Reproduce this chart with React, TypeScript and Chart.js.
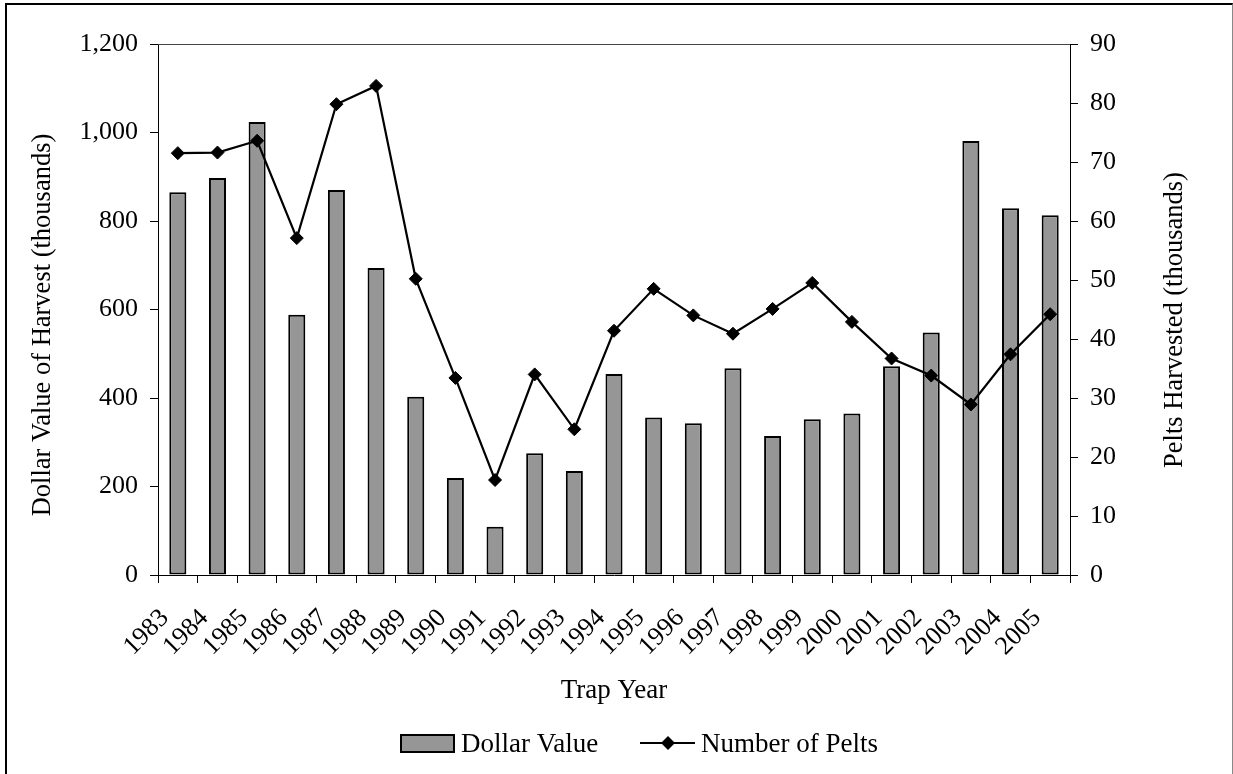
import React, { useEffect, useRef } from 'react';
import { Chart, registerables } from 'chart.js';

Chart.register(...registerables);

const FONT = '"Liberation Serif", "Times New Roman", Times, serif';

const years = [
  '1983', '1984', '1985', '1986', '1987', '1988', '1989', '1990', '1991', '1992', '1993', '1994',
  '1995', '1996', '1997', '1998', '1999', '2000', '2001', '2002', '2003', '2004', '2005',
];

// Dollar value of harvest (thousands) - left axis
const dollarValue = [
  865, 897, 1024, 588, 870, 694, 403, 219, 109, 275, 235, 454,
  356, 343, 467, 314, 352, 365, 472, 548, 981, 829, 813,
];

// Pelts harvested (thousands) - right axis
const peltsHarvested = [
  71.5, 71.6, 73.6, 57.1, 79.8, 82.9, 50.2, 33.4, 16.1, 34.0, 24.7, 41.4,
  48.5, 44.0, 40.9, 45.1, 49.5, 42.9, 36.7, 33.8, 28.9, 37.4, 44.2,
];

const leftAxisRange = [0, 1200, 200];
const rightAxisRange = [0, 90, 10];

const Y_LEFT_TITLE = 'Dollar Value of Harvest (thousands)';
const Y_RIGHT_TITLE = 'Pelts Harvested (thousands)';
const X_TITLE = 'Trap Year';
const LEGEND_BAR = 'Dollar Value';
const LEGEND_LINE = 'Number of Pelts';

const BAR_FILL = '#969696';

const extrasPlugin = {
  id: 'extras',
  afterDraw(chart: any) {
    const { ctx, chartArea } = chart;
    ctx.save();
    // top border of plot area
    ctx.strokeStyle = '#444';
    ctx.lineWidth = 1;
    ctx.beginPath();
    ctx.moveTo(chartArea.left, chartArea.top + 0.5);
    ctx.lineTo(chartArea.right, chartArea.top + 0.5);
    ctx.stroke();

    ctx.fillStyle = '#000';
    // x title
    ctx.font = `27px ${FONT}`;
    ctx.textAlign = 'center';
    ctx.textBaseline = 'alphabetic';
    ctx.fillText(X_TITLE, (chartArea.left + chartArea.right) / 2, 698);

    // left title
    ctx.font = `26.5px ${FONT}`;
    ctx.save();
    ctx.translate(50, 325);
    ctx.rotate(-Math.PI / 2);
    ctx.fillText(Y_LEFT_TITLE, 0, 0);
    ctx.restore();

    // right title
    ctx.save();
    ctx.translate(1182, 320);
    ctx.rotate(-Math.PI / 2);
    ctx.fillText(Y_RIGHT_TITLE, 0, 0);
    ctx.restore();

    // legend
    ctx.font = `27px ${FONT}`;
    ctx.textAlign = 'left';
    ctx.fillStyle = BAR_FILL;
    ctx.fillRect(401, 735, 53, 17);
    ctx.strokeStyle = '#000';
    ctx.lineWidth = 2;
    ctx.strokeRect(401, 735, 53, 17);
    ctx.fillStyle = '#000';
    ctx.fillText(LEGEND_BAR, 461, 752);

    ctx.lineWidth = 2.2;
    ctx.beginPath();
    ctx.moveTo(640, 743);
    ctx.lineTo(695, 743);
    ctx.stroke();
    ctx.beginPath();
    ctx.moveTo(668, 736);
    ctx.lineTo(675, 743);
    ctx.lineTo(668, 750);
    ctx.lineTo(661, 743);
    ctx.closePath();
    ctx.fill();
    ctx.fillText(LEGEND_LINE, 701, 752);
    ctx.restore();
  },
};

export default function App() {
  const ref = useRef<HTMLCanvasElement | null>(null);

  useEffect(() => {
    if (!ref.current) return;
    const chart = new Chart(ref.current, {
      type: 'bar',
      data: {
        labels: years,
        datasets: [
          {
            type: 'line',
            label: LEGEND_LINE,
            data: peltsHarvested,
            yAxisID: 'y1',
            borderColor: '#000',
            borderWidth: 2.2,
            backgroundColor: '#000',
            pointStyle: 'rectRot',
            pointRadius: 6.5,
            pointBackgroundColor: '#000',
            pointBorderColor: '#000',
            pointBorderWidth: 1,
            tension: 0,
            order: 1,
          } as any,
          {
            type: 'bar',
            label: LEGEND_BAR,
            data: dollarValue,
            yAxisID: 'y',
            backgroundColor: BAR_FILL,
            borderColor: '#000',
            borderWidth: 2,
            borderSkipped: false,
            categoryPercentage: 1,
            barPercentage: 0.43,
            order: 2,
          } as any,
        ],
      },
      options: {
        responsive: false,
        animation: false,
        layout: { padding: { top: 44, bottom: 69, left: 0, right: 0 } },
        plugins: {
          legend: { display: false },
          tooltip: { enabled: false },
        },
        scales: {
          x: {
            offset: true,
            grid: {
              offset: true,
              drawOnChartArea: false,
              drawTicks: true,
              tickLength: 8,
              color: '#000',
            },
            border: { display: true, color: '#000', width: 1 },
            ticks: {
              autoSkip: false,
              minRotation: 45,
              maxRotation: 45,
              labelOffset: -13,
              padding: 20,
              color: '#000',
              font: { family: FONT, size: 26 },
            },
            afterFit: (s: any) => {
              s.height = 130;
            },
          },
          y: {
            position: 'left',
            min: leftAxisRange[0],
            max: leftAxisRange[1],
            grid: { drawOnChartArea: false, drawTicks: true, tickLength: 8, color: '#000' },
            border: { display: true, color: '#000', width: 1 },
            ticks: {
              stepSize: leftAxisRange[2],
              padding: 12,
              color: '#000',
              font: { family: FONT, size: 26 },
            },
            afterFit: (s: any) => {
              s.width = 158;
            },
          },
          y1: {
            position: 'right',
            min: rightAxisRange[0],
            max: rightAxisRange[1],
            grid: { drawOnChartArea: false, drawTicks: true, tickLength: 8, color: '#000' },
            border: { display: true, color: '#000', width: 1 },
            ticks: {
              stepSize: rightAxisRange[2],
              padding: 12,
              color: '#000',
              font: { family: FONT, size: 26 },
            },
            afterFit: (s: any) => {
              s.width = 163;
            },
          },
        },
      },
      plugins: [extrasPlugin],
    });
    return () => chart.destroy();
  }, []);

  return (
    <div style={{ position: 'absolute', left: 0, top: 0, width: 1233, height: 774, overflow: 'hidden', background: '#fff' }}>
      <canvas ref={ref} width={1233} height={774} style={{ position: 'absolute', left: 0, top: 0, width: 1233, height: 774 }} />
      <div
        style={{
          position: 'absolute',
          left: 5,
          top: 3,
          width: 1233 - 5 - 3,
          height: 800,
          borderLeft: '2px solid #000',
          borderTop: '2px solid #000',
          borderRight: '1px solid #888',
          pointerEvents: 'none',
        }}
      />
    </div>
  );
}
